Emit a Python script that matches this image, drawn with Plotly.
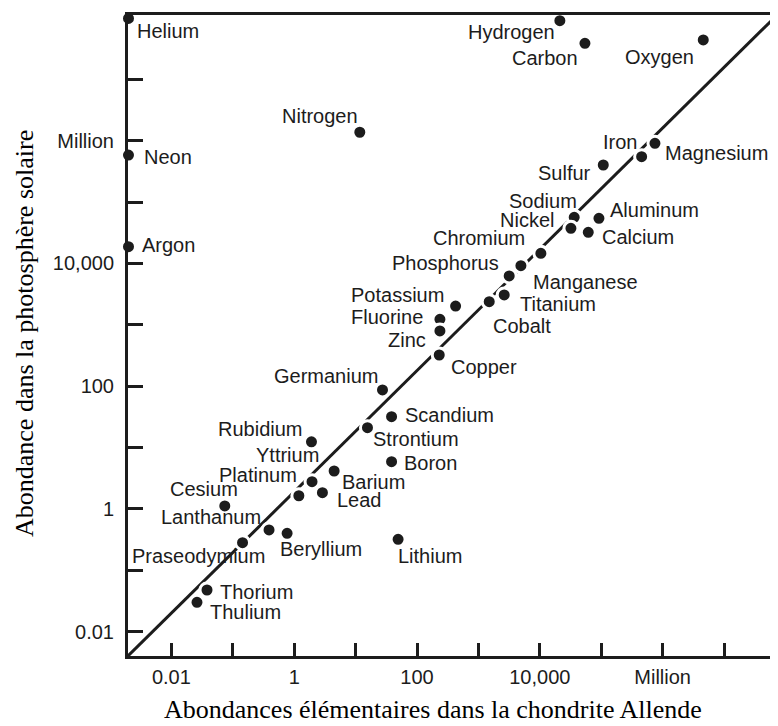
import math
import plotly.graph_objects as go

# ---- data (x = Allende chondrite, y = solar photosphere) ----
elements = ["Helium", "Neon", "Argon", "Hydrogen", "Carbon", "Oxygen", "Nitrogen",
            "Iron", "Magnesium", "Sulfur", "Sodium", "Nickel", "Aluminum", "Calcium",
            "Chromium", "Phosphorus", "Manganese", "Titanium", "Cobalt", "Potassium",
            "Fluorine", "Zinc", "Copper", "Germanium", "Scandium", "Strontium",
            "Rubidium", "Boron", "Barium", "Yttrium", "Platinum", "Lead", "Cesium",
            "Lanthanum", "Beryllium", "Praseodymium", "Thorium", "Thulium", "Lithium"]

allende = [0.002, 0.002, 0.002, 21200, 54300, 4.59e6, 11.7,
           455000, 750000, 108000, 36300, 32100, 91800, 61500,
           10400, 4920, 3170, 2630, 1500, 425,
           236, 236, 230, 27.4, 38.5, 15.6,
           1.91, 38.5, 4.47, 1.95, 1.19, 2.88, 0.074,
           0.389, 0.766, 0.144, 0.038, 0.0261, 49.2]

photosphere = [9.8e7, 583000, 18700, 9.0e7, 3.85e7, 4.37e7, 1.37e6,
               548000, 906000, 401000, 56400, 37300, 54300, 32100,
               14600, 9180, 6240, 3060, 2380, 2020,
               1230, 793, 322, 86.7, 31.8, 21.1,
               12.4, 5.89, 4.15, 2.78, 1.64, 1.84, 1.12,
               0.454, 0.401, 0.282, 0.0478, 0.0301, 0.320]

diag_x = [0.00196, 7.3e7]
diag_y = [0.00402, 1.11e8]

tick_vals = [0.01, 0.1, 1, 10, 100, 1000, 10000, 1e5, 1e6, 1e7]
tick_text = ["0.01", "", "1", "", "100", "", "10,000", "", "Million", ""]

x_title = "Abondances élémentaires dans la chondrite Allende"
y_title = "Abondance dans la photosphère solaire"

# ---- label placement (anchor, dx px, dy px downward) ----
label_pos = {
    "Helium": ("left", 7, 13), "Neon": ("left", 14, 2), "Argon": ("left", 12, -2),
    "Hydrogen": ("right", -3, 11), "Carbon": ("right", -5, 15), "Oxygen": ("right", -7, 17),
    "Nitrogen": ("right", 0, -16), "Iron": ("right", -3, -15), "Magnesium": ("left", 8, 10),
    "Sulfur": ("right", -10, 8), "Sodium": ("right", 5, -16), "Nickel": ("right", -15, -8),
    "Aluminum": ("left", 9, -8), "Calcium": ("left", 12, 5), "Chromium": ("right", -14, -15),
    "Phosphorus": ("right", -20, -3), "Manganese": ("left", 22, 6), "Titanium": ("left", 14, 9),
    "Cobalt": ("left", 2, 24), "Potassium": ("right", -10, -11), "Fluorine": ("right", -15, -2),
    "Zinc": ("right", -12, 9), "Copper": ("left", 10, 12), "Germanium": ("right", -3, -14),
    "Scandium": ("left", 11, -2), "Strontium": ("left", 4, 11), "Rubidium": ("right", -7, -13),
    "Boron": ("left", 10, 1), "Barium": ("left", 6, 11), "Yttrium": ("right", 9, -27),
    "Platinum": ("right", 0, -21), "Lead": ("left", 13, 7), "Cesium": ("right", 15, -17),
    "Lanthanum": ("right", -6, -13), "Beryllium": ("left", -9, 16),
    "Praseodymium": ("right", 24, 13), "Thorium": ("left", 11, 2), "Thulium": ("left", 11, 10),
    "Lithium": ("left", -2, 17),
}

INK = "#1c1c1c"
SANS = "Liberation Sans, Arial, Helvetica, sans-serif"
SERIF = "Liberation Serif, Times New Roman, serif"

fig = go.Figure()
fig.add_trace(go.Scatter(x=diag_x, y=diag_y, mode="lines",
                         line=dict(color=INK, width=3), hoverinfo="skip", showlegend=False))
fig.add_trace(go.Scatter(x=allende, y=photosphere, mode="markers", text=elements,
                         marker=dict(size=14, color=INK, line=dict(color="white", width=3)),
                         cliponaxis=False, showlegend=False))

annotations = []
for name, xv, yv in zip(elements, allende, photosphere):
    anchor, dx, dy = label_pos[name]
    annotations.append(dict(x=math.log10(xv), y=math.log10(yv), xref="x", yref="y",
                            text=name, showarrow=False,
                            xanchor=anchor, yanchor="middle", xshift=dx, yshift=-dy,
                            font=dict(family=SANS, size=20, color=INK)))

# figure is 770x718 and sits 8px from the page's top-left corner (plot area 128..778 x 15..656)
annotations.append(dict(x=(432.5 - 128) / 650, y=(656 - 709) / 641, xref="paper", yref="paper",
                        text=x_title, showarrow=False, xanchor="center", yanchor="middle",
                        font=dict(family=SERIF, size=26, color="black")))
annotations.append(dict(x=(24 - 128) / 650, y=(656 - 334) / 641, xref="paper", yref="paper",
                        text=y_title, showarrow=False, xanchor="center", yanchor="middle",
                        textangle=-90, font=dict(family=SERIF, size=26, color="black")))

fig.update_layout(
    width=770, height=718,
    margin=dict(l=120, r=0, t=7, b=70, autoexpand=False),
    paper_bgcolor="white", plot_bgcolor="white",
    annotations=annotations,
    xaxis=dict(type="log", range=[-2.707, 7.879], tickvals=tick_vals, ticktext=tick_text,
               ticks="inside", ticklen=13, tickwidth=3, tickcolor=INK,
               showline=True, linewidth=3, linecolor=INK, mirror=True,
               showgrid=False, zeroline=False, ticklabelstandoff=1,
               tickfont=dict(family=SANS, size=20, color=INK)),
    yaxis=dict(type="log", range=[-2.396, 8.047], tickvals=tick_vals, ticktext=tick_text,
               ticks="inside", ticklen=15, tickwidth=3, tickcolor=INK,
               showline=True, linewidth=3, linecolor=INK, mirror=False,
               showgrid=False, zeroline=False, ticklabelstandoff=7,
               tickfont=dict(family=SANS, size=20, color=INK)),
)

fig.write_html("out.html")
